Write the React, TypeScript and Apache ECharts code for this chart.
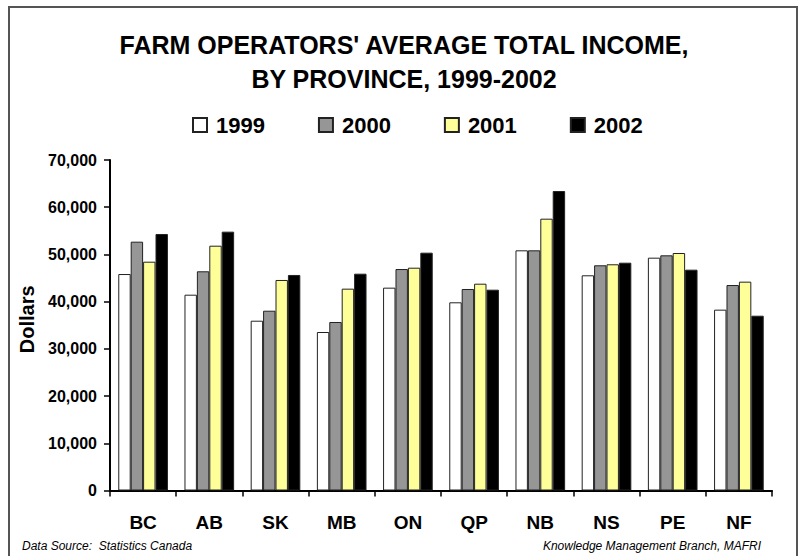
import React, { useEffect, useRef } from "react";
import * as echarts from "echarts";

const provinces = ["BC", "AB", "SK", "MB", "ON", "QP", "NB", "NS", "PE", "NF"];
const years = ["1999", "2000", "2001", "2002"];
const values1999 = [45850, 41470, 35960, 33570, 42960, 39860, 50870, 45580, 49310, 38300];
const values2000 = [52700, 46430, 38080, 35690, 46910, 42680, 50870, 47700, 49810, 43520];
const values2001 = [48460, 51850, 44590, 42750, 47190, 43800, 57570, 47910, 50300, 44230];
const values2002 = [54330, 54820, 45650, 45920, 50370, 42530, 63430, 48250, 46770, 37020];
const seriesValues = [values1999, values2000, values2001, values2002];
const colors = ["#FFFFFF", "#969696", "#FFFF99", "#000000"];

const FONT = "'Liberation Sans', Arial, Helvetica, sans-serif";

export default function App() {
  const ref = useRef<HTMLDivElement>(null);

  useEffect(() => {
    if (!ref.current) return;
    const chart = echarts.init(ref.current, null, { renderer: "svg" });
    chart.setOption({
      animation: false,
      backgroundColor: "#FFFFFF",
      title: {
        text: "FARM OPERATORS' AVERAGE TOTAL INCOME,\nBY PROVINCE, 1999-2002",
        left: 399,
        textAlign: "center",
        top: 23,
        textStyle: {
          fontFamily: FONT,
          fontSize: 25,
          fontWeight: "bold",
          color: "#000",
          lineHeight: 34,
        },
      },
      legend: {
        data: years,
        left: 187,
        top: 109,
        itemWidth: 14,
        itemHeight: 14,
        itemGap: 53,
        icon: "rect",
        textStyle: {
          fontFamily: FONT,
          fontSize: 22,
          fontWeight: "bold",
          color: "#000",
          padding: [0, 0, 0, 4],
        },
      },
      grid: { left: 110, right: 29, top: 160, bottom: 65.5, containLabel: false },
      xAxis: {
        type: "category",
        data: provinces,
        axisLine: { lineStyle: { color: "#000", width: 2 } },
        axisTick: { show: true, length: 6, lineStyle: { color: "#000", width: 1.5 } },
        axisLabel: {
          fontFamily: FONT,
          fontSize: 19,
          fontWeight: "bold",
          color: "#000",
          margin: 22,
        },
      },
      yAxis: {
        type: "value",
        min: 0,
        max: 70000,
        interval: 10000,
        name: "Dollars",
        nameLocation: "middle",
        nameGap: 73,
        nameTextStyle: { fontFamily: FONT, fontSize: 20, fontWeight: "bold", color: "#000", padding: [0, 0, 0, 12] },
        splitLine: { show: false },
        axisLine: { show: true, lineStyle: { color: "#000", width: 2 } },
        axisTick: { show: true, length: 6, lineStyle: { color: "#000", width: 1.5 } },
        axisLabel: {
          fontFamily: FONT,
          fontSize: 16,
          fontWeight: "bold",
          color: "#000",
          margin: 13,
          formatter: (v: number) => v.toLocaleString("en-US"),
        },
      },
      series: years.map((y, i) => ({
        name: y,
        type: "bar",
        data: seriesValues[i],
        barGap: "0%",
        barCategoryGap: "25%",
        itemStyle: { color: colors[i], borderColor: "#222", borderWidth: 1 },
      })),
      graphic: [
        {
          type: "rect",
          shape: { x: 9, y: 7, width: 788, height: 600 },
          style: { fill: "none", stroke: "#555", lineWidth: 2 },
          silent: true,
        },
        {
          type: "text",
          left: 22,
          top: 540,
          style: {
            text: "Data Source:  Statistics Canada",
            fontFamily: FONT,
            fontSize: 12,
            fontStyle: "italic",
            fill: "#000",
          },
        },
        {
          type: "text",
          right: 40,
          top: 540,
          style: {
            text: "Knowledge Management Branch, MAFRI",
            fontFamily: FONT,
            fontSize: 12,
            fontStyle: "italic",
            fill: "#000",
          },
        },
      ],
    });
    return () => chart.dispose();
  }, []);

  return (
    <div
      ref={ref}
      style={{ position: "fixed", left: 0, top: 0, width: 801, height: 556, background: "#fff" }}
    />
  );
}
